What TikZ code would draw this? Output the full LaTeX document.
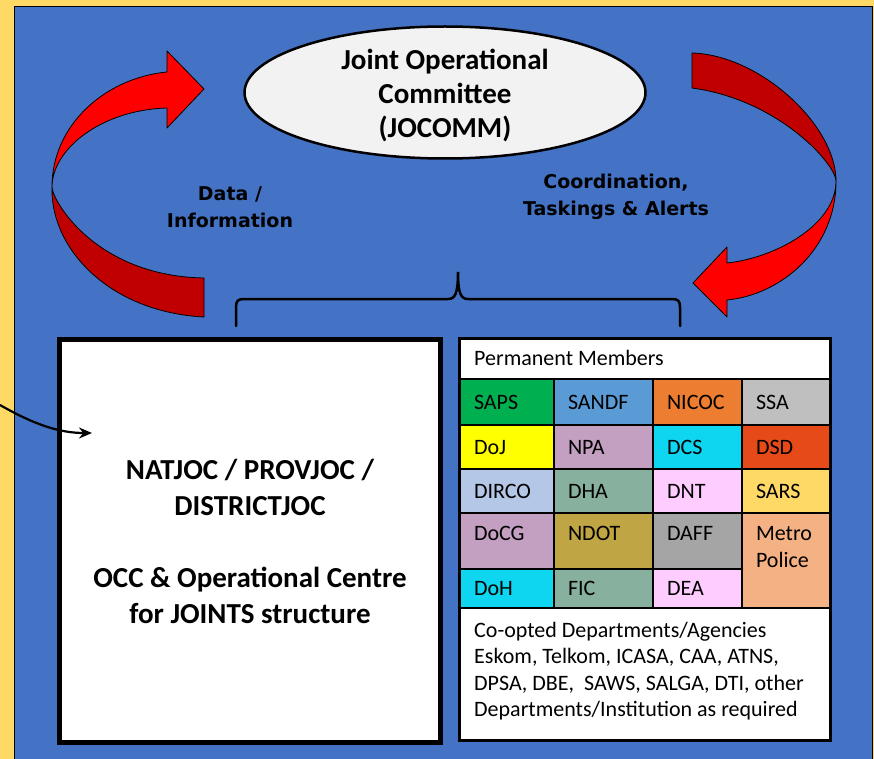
\documentclass[tikz,border=0pt]{standalone}
\usepackage{fontspec}
\setmainfont{Carlito}
\newfontfamily\comicfont{DejaVu Sans}
\usetikzlibrary{arrows.meta,shapes.geometric,positioning}

\definecolor{frameyellow}{HTML}{FFD966}
\definecolor{bgblue}{HTML}{4472C4}
\definecolor{arrowred}{HTML}{FF0000}
\definecolor{arrowdark}{HTML}{C00000}
\definecolor{ovalgrey}{HTML}{F2F2F2}
\definecolor{sapsgreen}{HTML}{00B050}
\definecolor{sandfblue}{HTML}{5B9BD5}
\definecolor{nicocorange}{HTML}{ED7D31}
\definecolor{ssagrey}{HTML}{BFBFBF}
\definecolor{dojyellow}{HTML}{FFFF00}
\definecolor{mauve}{HTML}{C3A0C1}
\definecolor{cyanish}{HTML}{0FD6F0}
\definecolor{dsdred}{HTML}{E64A19}
\definecolor{dircoblue}{HTML}{B4C7E7}
\definecolor{sage}{HTML}{88B09F}
\definecolor{pinkish}{HTML}{FFCCFF}
\definecolor{sarsyellow}{HTML}{FFD966}
\definecolor{ndotolive}{HTML}{BFA544}
\definecolor{daffgrey}{HTML}{A5A5A5}
\definecolor{peach}{HTML}{F4B183}

\begin{document}
\begin{tikzpicture}[x=1pt,y=-1pt,>={Stealth[length=13pt,width=11pt]},
    band/.style={draw=black,line width=0.8pt,line join=round},
    oval/.style={ellipse,draw,line width=2.5pt,fill=ovalgrey,inner sep=0pt,
                 minimum width=401pt,minimum height=132pt},
    ovaltext/.style={align=center,inner sep=0pt,font=\fontsize{29}{34}\selectfont\bfseries},
    flowlabel/.style={align=center,font=\comicfont\bfseries\fontsize{19}{27.5}\selectfont},
    cell/.style={draw=black,line width=1.5pt,anchor=north west,inner ysep=0pt,
                 inner xsep=14pt,outer sep=0pt,align=left,text height=15pt,text depth=1pt,
                 font=\fontsize{22}{27}\selectfont},
    colA/.style={text width=66pt},
    colB/.style={text width=71pt},
    colC/.style={text width=61pt},
    colD/.style={text width=60pt},
    tall/.style={minimum height=56pt,text depth=17pt}]

\useasboundingbox (0,0) rectangle (874,759);
\fill[frameyellow] (0,0) rectangle (874,759);
\draw[fill=bgblue,line width=1.2pt] (14.5,6.5) rectangle (872.5,775);

% the two loops
\filldraw[band,fill=arrowdark] (52,187) .. controls (52,200) and (95,276) .. (204,278)
    -- (204,317) .. controls (110,312) and (52,250) .. (52,190) -- cycle;
\filldraw[band,fill=arrowred] (52,187) .. controls (52,125) and (105,78) .. (167,72)
    -- (167,51) -- (204,89) -- (167,128) -- (167,108)
    .. controls (100,110) and (52,150) .. (52,187) -- cycle;
\filldraw[band,fill=arrowdark] (692,53) .. controls (760,55) and (836,125) .. (836,181)
    .. controls (836,165) and (780,100) .. (692,88) -- cycle;
\filldraw[band,fill=arrowred] (836,181) .. controls (836,250) and (780,295) .. (727,300)
    -- (727,317) -- (693,283) -- (727,247) -- (727,263)
    .. controls (775,258) and (836,225) .. (836,181) -- cycle;

\node[oval] (jocomm) at (445,92.5) {};
\node[ovaltext] (jocommlabel) at (445,96) {Joint Operational\\Committee\\(JOCOMM)};
\node[flowlabel] (datainfo) at (230,207) {Data /\\Information};
\node[flowlabel] (coord) at (616,197) {Coordination,\\Taskings \& Alerts};

% brace over both boxes
\draw[line width=2.5pt,line cap=round] (236,326) -- (236,307)
    .. controls (236,301) and (238,299) .. (244,299) -- (448,299)
    .. controls (455,299) and (458,294) .. (458,272)
    .. controls (458,294) and (461,299) .. (468,299) -- (672,299)
    .. controls (678,299) and (680,301) .. (680,307) -- (680,326);

\node[draw,line width=5pt,fill=white,minimum width=381pt,minimum height=403pt,
      inner sep=0pt,align=center,font=\fontsize{29}{36}\selectfont\bfseries]
      (joc) at (250,541)
      {NATJOC / PROVJOC /\\DISTRICTJOC\\[36pt]OCC \& Operational Centre\\for JOINTS structure};

\coordinate (feed) at (0,405);
\coordinate (feedend) at (92,433);
\draw[->,line width=2.2pt] (feed) .. controls (35,425) and (60,433) .. (feedend);

% permanent members table
\node[draw,line width=3pt,fill=white,minimum width=371pt,minimum height=402pt,inner sep=0pt]
      (members) at (645,539.5) {};
\node[anchor=west,inner sep=0pt,font=\fontsize{22}{27}\selectfont] (permhead) at (474,358) {Permanent Members};

\node[cell,colA,fill=sapsgreen,minimum height=46pt] (saps) at (460,379) {SAPS};
\node[cell,colB,fill=sandfblue,minimum height=46pt] (sandf) [right=0pt of saps] {SANDF};
\node[cell,colC,fill=nicocorange,minimum height=46pt] (nicoc) [right=0pt of sandf] {NICOC};
\node[cell,colD,fill=ssagrey,minimum height=46pt] (ssa) [right=0pt of nicoc] {SSA};

\node[cell,colA,fill=dojyellow,minimum height=44pt] (doj) [below=0pt of saps] {DoJ};
\node[cell,colB,fill=mauve,minimum height=44pt] (npa) [right=0pt of doj] {NPA};
\node[cell,colC,fill=cyanish,minimum height=44pt] (dcs) [right=0pt of npa] {DCS};
\node[cell,colD,fill=dsdred,minimum height=44pt] (dsd) [right=0pt of dcs] {DSD};

\node[cell,colA,fill=dircoblue,minimum height=44pt] (dirco) [below=0pt of doj] {DIRCO};
\node[cell,colB,fill=sage,minimum height=44pt] (dha) [right=0pt of dirco] {DHA};
\node[cell,colC,fill=pinkish,minimum height=44pt] (dnt) [right=0pt of dha] {DNT};
\node[cell,colD,fill=sarsyellow,minimum height=44pt] (sars) [right=0pt of dnt] {SARS};

\node[cell,colA,tall,fill=mauve] (docg) [below=0pt of dirco] {DoCG};
\node[cell,colB,tall,fill=ndotolive] (ndot) [right=0pt of docg] {NDOT};
\node[cell,colC,tall,fill=daffgrey] (daff) [right=0pt of ndot] {DAFF};
\node[cell,colD,fill=peach,minimum height=95pt,text depth=56pt] (metro) [below=0pt of sars] {Metro\\Police};

\node[cell,colA,fill=cyanish,minimum height=39pt,text depth=2pt] (doh) [below=0pt of docg] {DoH};
\node[cell,colB,fill=sage,minimum height=39pt,text depth=2pt] (fic) [right=0pt of doh] {FIC};
\node[cell,colC,fill=pinkish,minimum height=39pt,text depth=2pt] (dea) [right=0pt of fic] {DEA};

\node[anchor=north west,inner sep=0pt,align=left,font=\fontsize{22}{26.5}\selectfont]
      (coopted) at (474,622)
      {Co-opted Departments/Agencies\\Eskom, Telkom, ICASA, CAA, ATNS,\\DPSA, DBE,\ \ SAWS, SALGA, DTI, other\\Departments/Institution as required};
\end{tikzpicture}
\end{document}
